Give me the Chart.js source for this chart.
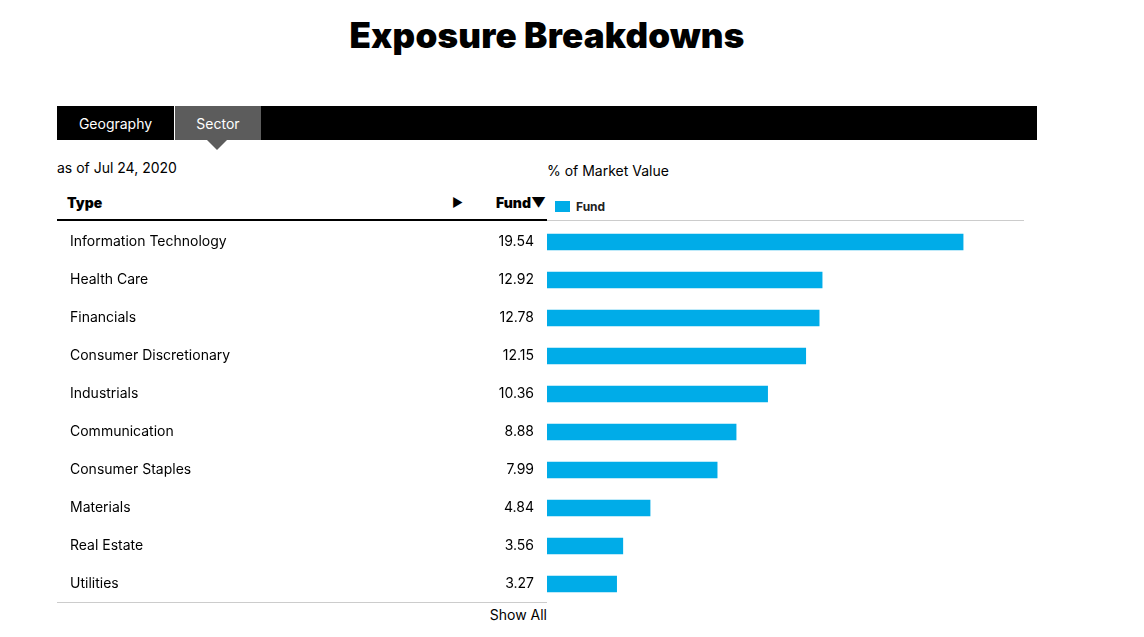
<!DOCTYPE html>
<html><head><meta charset="utf-8">
<script src="https://cdn.jsdelivr.net/npm/chart.js@4/dist/chart.umd.min.js"></script>
<style>
html,body{margin:0;padding:0;background:#fff;width:1144px;height:637px;overflow:hidden;font-family:Inter,Roboto,"Noto Sans",sans-serif;color:#000;}
.abs{position:absolute;white-space:nowrap;}
#title{left:0;width:1094px;top:14px;text-align:center;font-family:Inter,"Liberation Sans",sans-serif;font-weight:900;font-size:35px;letter-spacing:0.2px;}
#tabbar{left:57px;top:106px;width:980px;height:34px;background:#000;}
#tab1{left:57px;top:106px;width:117px;height:34px;line-height:36px;text-align:center;color:#fff;font-size:14px;}
#tab2{left:175px;top:106px;width:86px;height:34px;line-height:36px;text-align:center;color:#fff;font-size:14px;background:#5c5c5c;}
#tri{left:207px;top:140px;width:0;height:0;border-left:10px solid transparent;border-right:10px solid transparent;border-top:10px solid #5c5c5c;}
#sep{left:174px;top:106px;width:1px;height:34px;background:#fff;}
#asof{left:57px;top:159px;font-size:14px;}
#pmv{left:547px;top:162px;font-size:14px;}
#type{left:67px;top:194px;font-size:14px;font-weight:900;}
#arrow{left:452px;top:195px;font-size:12px;}
#fund{left:480px;width:66px;text-align:right;top:194px;font-size:14px;font-weight:900;}
#legsq{left:555px;top:201px;width:15px;height:11px;background:#00ace8;}
#legtx{left:576px;top:199px;font-size:12px;font-weight:700;color:#222;}
#hl1{left:57px;top:219px;width:490px;height:2px;background:#000;}
#hl2{left:547px;top:220px;width:477px;height:1px;background:#ccc;}
#bl{left:57px;top:602px;width:490px;height:1px;background:#ccc;}
#showall{left:447px;width:100px;text-align:right;top:606px;font-size:14px;}
#wrap{position:absolute;left:57px;top:223px;width:980px;height:380px;}
</style></head>
<body>
<div class="abs" id="title">Exposure Breakdowns</div>
<div class="abs" id="tabbar"></div>
<div class="abs" id="tab1">Geography</div>
<div class="abs" id="tab2">Sector</div>
<div class="abs" id="sep"></div>
<div class="abs" id="tri"></div>
<div class="abs" id="asof">as of Jul 24, 2020</div>
<div class="abs" id="pmv">% of Market Value</div>
<div class="abs" id="type">Type</div>
<div class="abs" id="arrow">&#9654;</div>
<div class="abs" id="fund">Fund&#9660;</div>
<div class="abs" id="legsq"></div>
<div class="abs" id="legtx">Fund</div>
<div class="abs" id="hl1"></div>
<div class="abs" id="hl2"></div>
<div class="abs" id="bl"></div>
<div class="abs" id="showall">Show All</div>
<div id="wrap"><canvas id="c"></canvas></div>
<script>
const categories = ["Information Technology","Health Care","Financials","Consumer Discretionary","Industrials","Communication","Consumer Staples","Materials","Real Estate","Utilities"];
const fundValues = [19.54,12.92,12.78,12.15,10.36,8.88,7.99,4.84,3.56,3.27];
const seriesName = "Fund";

const labelPlugin = {
  id:'rowLabels',
  afterDatasetsDraw(chart){
    const ctx = chart.ctx, y = chart.scales.y;
    ctx.save();
    ctx.font = '14px Inter, Roboto, "Noto Sans", sans-serif';
    ctx.fillStyle = '#000';
    ctx.textBaseline = 'middle';
    categories.forEach((c,i)=>{
      const py = y.getPixelForValue(i);
      ctx.textAlign = 'left';
      ctx.fillText(c, 13, py);
      ctx.textAlign = 'right';
      ctx.fillText(fundValues[i].toFixed(2), 477, py);
    });
    ctx.restore();
  }
};

new Chart(document.getElementById('c'), {
  type:'bar',
  data:{labels:categories, datasets:[{label:seriesName, data:fundValues, backgroundColor:'#00ace8', barThickness:16, borderWidth:0}]},
  options:{
    indexAxis:'y', responsive:true, maintainAspectRatio:false, animation:false,
    layout:{padding:{left:490,right:13,top:0,bottom:0}},
    plugins:{legend:{display:false}, tooltip:{enabled:false}},
    scales:{
      x:{display:false, min:0, max:22.4},
      y:{display:false}
    }
  },
  plugins:[labelPlugin]
});
</script>
</body></html>
